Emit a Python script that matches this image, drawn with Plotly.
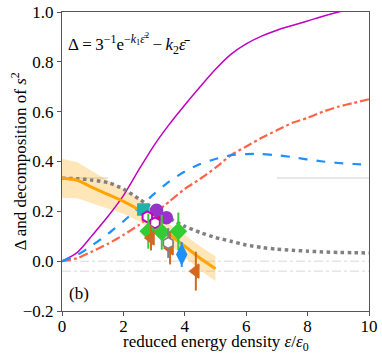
import plotly.graph_objects as go

# curves
x_grid = [0, 0.5, 1, 1.5, 2, 2.5, 3, 3.5, 4, 4.5, 5, 5.5, 6, 6.5, 7, 7.5, 8, 8.5, 9, 9.5, 10]
magenta_y = [0, 0.035, 0.106, 0.18, 0.263, 0.366, 0.465, 0.55, 0.627, 0.70, 0.77, 0.83, 0.872,
             0.903, 0.927, 0.946, 0.964, 0.983, 1.0, 1.015, 1.03]
red_y = [0, 0.012, 0.04, 0.07, 0.105, 0.145, 0.19, 0.24, 0.29, 0.33, 0.375, 0.425, 0.46,
         0.495, 0.525, 0.555, 0.575, 0.6, 0.62, 0.635, 0.65]
blue_y = [0, 0.025, 0.065, 0.11, 0.16, 0.215, 0.27, 0.32, 0.36, 0.39, 0.41, 0.425, 0.43,
          0.43, 0.425, 0.418, 0.408, 0.4, 0.394, 0.39, 0.387]
gray_y = [0.333, 0.331, 0.325, 0.315, 0.29, 0.25, 0.21, 0.172, 0.14, 0.115, 0.095, 0.08,
          0.065, 0.055, 0.048, 0.044, 0.04, 0.037, 0.035, 0.034, 0.033]

fit_x = [0, 0.5, 1, 1.5, 2, 2.5, 3, 3.5, 4, 4.5, 5]
fit_y = [0.333, 0.325, 0.295, 0.268, 0.24, 0.206, 0.16, 0.107, 0.06, 0.012, -0.03]
fit_hw = [0.078, 0.072, 0.065, 0.058, 0.05, 0.045, 0.04, 0.04, 0.045, 0.048, 0.05]

# data points: (x, y, error)
teal_pts = ([2.65], [0.207], [0.02])
purple_pts = ([3.08, 3.4], [0.204, 0.174], [0.02, 0.02])
red_pts = ([3.19], [0.187], [0.02])
hex_pts = ([2.78, 3.03], [0.178, 0.154], [0.02, 0.02])
green_pts = ([2.81, 3.25, 3.79], [0.12, 0.116, 0.12], [0.07, 0.07, 0.075])
brown_pts = ([2.9, 3.52, 4.36], [0.093, 0.053, -0.04], [0.05, 0.066, 0.078])
grayhex_pts = ([3.46], [0.073], [0.06])
bluedia_pts = ([3.9], [0.027], [0.05])

SERIF = "Times New Roman, Liberation Serif, DejaVu Serif, serif"

fig = go.Figure()

# reference lines
fig.add_trace(go.Scatter(x=[0, 10], y=[0, 0], mode="lines",
                         line=dict(color="#d8d8d8", width=1, dash="dashdot")))
fig.add_trace(go.Scatter(x=[0, 10], y=[-0.04, -0.04], mode="lines",
                         line=dict(color="#d8d8d8", width=1, dash="dashdot")))
fig.add_trace(go.Scatter(x=[0, 1.5], y=[1 / 3, 1 / 3], mode="lines",
                         line=dict(color="#e0e0e0", width=1.5)))
fig.add_trace(go.Scatter(x=[7, 10], y=[1 / 3, 1 / 3], mode="lines",
                         line=dict(color="#e0e0e0", width=1.5)))

# band
upper = [y + h for y, h in zip(fit_y, fit_hw)]
lower = [y - h for y, h in zip(fit_y, fit_hw)]
fig.add_trace(go.Scatter(x=fit_x + fit_x[::-1], y=upper + lower[::-1], fill="toself",
                         fillcolor="rgba(255,165,0,0.28)", line=dict(width=0), mode="lines"))

fig.add_trace(go.Scatter(x=x_grid, y=magenta_y, mode="lines",
                         line=dict(color="#c000c0", width=1.5, shape="spline", smoothing=0.8)))
fig.add_trace(go.Scatter(x=x_grid, y=red_y, mode="lines",
                         line=dict(color="#ff6347", width=2.2, dash="dashdot", shape="spline", smoothing=0.6)))
fig.add_trace(go.Scatter(x=x_grid, y=blue_y, mode="lines",
                         line=dict(color="#1e90ff", width=2.2, dash="dash", shape="spline", smoothing=0.6)))
fig.add_trace(go.Scatter(x=x_grid, y=gray_y, mode="lines",
                         line=dict(color="#808080", width=3.5, dash="dot", shape="spline", smoothing=0.6)))
fig.add_trace(go.Scatter(x=fit_x, y=fit_y, mode="lines",
                         line=dict(color="#ffa500", width=3, shape="spline", smoothing=0.6)))


def pts(data, symbol, color, fill, size=11, lw=1.5):
    xs, ys, es = data
    fig.add_trace(go.Scatter(
        x=xs, y=ys, mode="markers",
        error_y=dict(type="data", array=es, color=color, thickness=2, width=0),
        marker=dict(symbol=symbol, size=size, color=fill, line=dict(color=color, width=lw))))


pts(teal_pts, "square", "#20b2aa", "#20b2aa", 11)
pts(red_pts, "triangle-right", "#ff0000", "#ff0000", 11)
pts(purple_pts, "circle", "#9932cc", "#9932cc", 12)
pts(hex_pts, "hexagon", "#c000c0", "white", 11, 2)
pts(green_pts, "diamond", "#32cd32", "#32cd32", 12)
pts(brown_pts, "triangle-left", "#d2691e", "#d2691e", 12)
pts(grayhex_pts, "hexagon", "#808080", "white", 11, 1.5)
pts(bluedia_pts, "diamond-tall", "#1e90ff", "#1e90ff", 14)

fig.add_annotation(x=0.12, y=0.87, xanchor="left", yanchor="middle", showarrow=False,
                   text="Δ\u2009=\u20093<sup>−1</sup>e<sup>−<i>k</i><sub>1</sub><i>ε̄</i><sup>2</sup></sup>"
                        "\u2009−\u2009<i>k</i><sub>2</sub><i>ε̄</i>",
                   font=dict(family=SERIF, size=17, color="black"))
fig.add_annotation(x=0.15, y=-0.128, xanchor="left", yanchor="middle", showarrow=False,
                   text="(b)", font=dict(family=SERIF, size=17, color="black"))

# axis titles as paper annotations
fig.add_annotation(x=0.5, y=-0.108, xref="paper", yref="paper", xanchor="center", yanchor="middle",
                   showarrow=False, text="reduced energy density <i>ε</i>/<i>ε</i><sub>0</sub>",
                   font=dict(family=SERIF, size=17, color="black"))
fig.add_annotation(x=-0.143, y=0.5, xref="paper", yref="paper", xanchor="center", yanchor="middle",
                   showarrow=False, textangle=-90, text="Δ and decomposition of <i>s</i><sup>2</sup>",
                   font=dict(family=SERIF, size=17, color="black"))

axis_common = dict(showgrid=False, zeroline=False, showline=True, linecolor="#555555", linewidth=1,
                   mirror=True, ticks="outside", ticklen=4, tickcolor="#555555", automargin=False,
                   tickfont=dict(family=SERIF, size=17, color="black"))

fig.update_layout(
    width=382, height=354,
    margin=dict(l=62, r=13, t=12, b=43),
    plot_bgcolor="white", paper_bgcolor="white",
    showlegend=False,
    font=dict(family=SERIF, size=17, color="black"),
    xaxis=dict(range=[0, 10], tickvals=[0, 2, 4, 6, 8, 10], ticklabelstandoff=-4, **axis_common),
    yaxis=dict(range=[-0.2, 1.0], tickvals=[-0.2, 0, 0.2, 0.4, 0.6, 0.8, 1.0], tickformat=".1f",
               **axis_common),
)

# drop the default 8px page margin so the figure sits at the window corner
fig.write_html("out.html", config={"displayModeBar": False},
               post_script="document.body.style.margin='0';")
